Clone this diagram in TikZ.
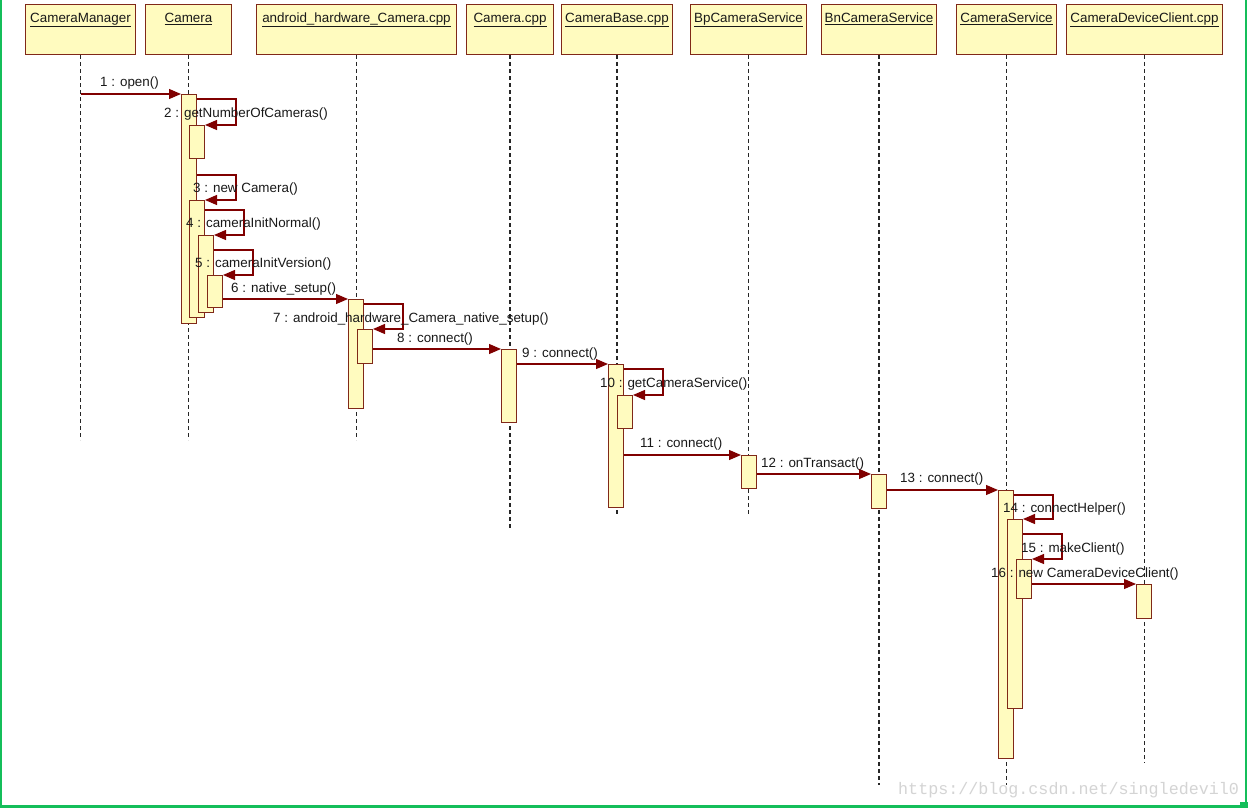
\documentclass[tikz,border=0pt]{standalone}
\usepackage{fontspec}
\setmainfont{Liberation Sans}
\newfontfamily\wmfont{Liberation Mono}
\usetikzlibrary{arrows.meta,calc}
\definecolor{actfill}{RGB}{255,251,191}
\definecolor{actline}{RGB}{128,40,24}
\definecolor{msgcol}{RGB}{128,0,0}
\definecolor{framecol}{RGB}{20,190,90}
\definecolor{wmgray}{RGB}{212,212,212}
\begin{document}
\begin{tikzpicture}[x=1pt,y=-1pt,
  hdr/.style={draw=actline, fill=actfill, line width=1pt, anchor=north west, minimum height=50pt, text height=10pt, text depth=24pt, inner ysep=8pt, inner xsep=0pt, font=\fontsize{13.4}{15}\selectfont, text=black!90},
  actbox/.style={draw=actline, fill=actfill, line width=1pt, anchor=north west, minimum width=15pt, inner sep=0pt},
  lifeline/.style={draw=black!85, line width=1.8pt, dash pattern=on 4pt off 3pt},
  msg/.style={draw=msgcol, line width=1.2pt, -{Triangle[length=12pt,width=10pt]}},
  lbl/.style={anchor=base west, inner sep=0pt, font=\fontsize{13.4}{15}\selectfont, text=black!90}]
\useasboundingbox (0,0) rectangle (1249,808);
\fill[white] (0,0) rectangle (1249,808);
% frame
\draw[framecol, line width=2.5pt] (1.2,0) -- (1.2,806.5) -- (1246,806.5) -- (1246,0);
\fill[framecol] (1240,802) rectangle (1247.5,808);
% headers
\node[hdr, minimum width=110pt] (cm) at (25,4) {\underline{CameraManager}};
\node[hdr, minimum width=86pt] (cam) at (145,4) {\underline{Camera}};
\node[hdr, minimum width=200pt] (ahc) at (256,4) {\underline{android\_hardware\_Camera.cpp}};
\node[hdr, minimum width=87pt] (ccpp) at (466,4) {\underline{Camera.cpp}};
\node[hdr, minimum width=111pt] (cbase) at (561,4) {\underline{CameraBase.cpp}};
\node[hdr, minimum width=116pt] (bp) at (690,4) {\underline{BpCameraService}};
\node[hdr, minimum width=115pt] (bn) at (821,4) {\underline{BnCameraService}};
\node[hdr, minimum width=100pt] (cs) at (956,4) {\underline{CameraService}};
\node[hdr, minimum width=156pt] (cdc) at (1066,4) {\underline{CameraDeviceClient.cpp}};
% lifeline ends
\coordinate (cmE) at (cm.south |- 0,440);
\coordinate (camE) at (cam.south |- 0,440);
\coordinate (ahcE) at (ahc.south |- 0,440);
\coordinate (ccppE) at (ccpp.south |- 0,530);
\coordinate (cbaseE) at (cbase.south |- 0,516);
\coordinate (bpE) at (bp.south |- 0,515);
\coordinate (bnE) at (bn.south |- 0,785);
\coordinate (csE) at (cs.south |- 0,785);
\coordinate (cdcE) at (cdc.south |- 0,763);
\foreach \h in {cm,cam,ahc,ccpp,cbase,bp,bn,cs,cdc}
  \draw[lifeline] (\h.south) -- (\h E);
% activations
\node[actbox, minimum height=229pt] (a1) at (181,94) {};
\node[actbox, minimum height=33pt] (a2) at (189,125) {};
\node[actbox, minimum height=117pt] (a3) at (189,200) {};
\node[actbox, minimum height=77pt] (a4) at (198,235) {};
\node[actbox, minimum height=32pt] (a5) at (207,275) {};
\node[actbox, minimum height=109pt] (b1) at (348,299) {};
\node[actbox, minimum height=34pt] (b2) at (357,329) {};
\node[actbox, minimum height=73pt] (c1) at (501,349) {};
\node[actbox, minimum height=143pt] (d1) at (608,364) {};
\node[actbox, minimum height=33pt] (d2) at (617,395) {};
\node[actbox, minimum height=33pt] (e1) at (741,455) {};
\node[actbox, minimum height=34pt] (f1) at (871,474) {};
\node[actbox, minimum height=268pt] (g1) at (998,490) {};
\node[actbox, minimum height=189pt] (g2) at (1007,519) {};
\node[actbox, minimum height=39pt] (g3) at (1016,559) {};
\node[actbox, minimum height=34pt] (h1) at (1136,584) {};
% messages between lifelines
\draw[msg] (a1.north west -| cm.south) -- (a1.north west);
\draw[msg] (b1.north west -| a5.east) -- (b1.north west);
\draw[msg] (c1.north west -| b2.east) -- (c1.north west);
\draw[msg] (d1.north west -| c1.east) -- (d1.north west);
\draw[msg] (e1.north west -| d1.east) -- (e1.north west);
\draw[msg] (f1.north west -| e1.east) -- (f1.north west);
\draw[msg] (g1.north west -| f1.east) -- (g1.north west);
\draw[msg] (h1.north west -| g3.east) -- (h1.north west);
% self messages
\draw[msg] ($(a2.north east -| a1.east)+(0,-26)$) -| ++(39,26) -- (a2.north east);
\draw[msg] ($(a3.north east -| a1.east)+(0,-25)$) -| ++(39,25) -- (a3.north east);
\draw[msg] ($(a4.north east -| a3.east)+(0,-25)$) -| ++(39,25) -- (a4.north east);
\draw[msg] ($(a5.north east -| a4.east)+(0,-25)$) -| ++(39,25) -- (a5.north east);
\draw[msg] ($(b2.north east -| b1.east)+(0,-25)$) -| ++(39,25) -- (b2.north east);
\draw[msg] ($(d2.north east -| d1.east)+(0,-26)$) -| ++(39,26) -- (d2.north east);
\draw[msg] ($(g2.north east -| g1.east)+(0,-24)$) -| ++(39,24) -- (g2.north east);
\draw[msg] ($(g3.north east -| g2.east)+(0,-25)$) -| ++(39,25) -- (g3.north east);
% labels
\node[lbl] (l1) at (100,86) {1 : open()};
\node[lbl] (l2) at (164,117) {2 : getNumberOfCameras()};
\node[lbl] (l3) at (193,192) {3 : new Camera()};
\node[lbl] (l4) at (186,227) {4 : cameraInitNormal()};
\node[lbl] (l5) at (195,267) {5 : cameraInitVersion()};
\node[lbl] (l6) at (231,292) {6 : native\_setup()};
\node[lbl] (l7) at (273,322) {7 : android\_hardware\_Camera\_native\_setup()};
\node[lbl] (l8) at (397,342) {8 : connect()};
\node[lbl] (l9) at (522,357) {9 : connect()};
\node[lbl] (l10) at (600,387) {10 : getCameraService()};
\node[lbl] (l11) at (640,447) {11 : connect()};
\node[lbl] (l12) at (761,467) {12 : onTransact()};
\node[lbl] (l13) at (900,482) {13 : connect()};
\node[lbl] (l14) at (1003,512) {14 : connectHelper()};
\node[lbl] (l15) at (1021,552) {15 : makeClient()};
\node[lbl] (l16) at (991,577) {16 : new CameraDeviceClient()};
% watermark
\node[anchor=base west, inner sep=0pt, text=wmgray, font=\wmfont\fontsize{16.7}{18}\selectfont] (wm) at (898,794) {https://blog.csdn.net/singledevil0};
\end{tikzpicture}
\end{document}
